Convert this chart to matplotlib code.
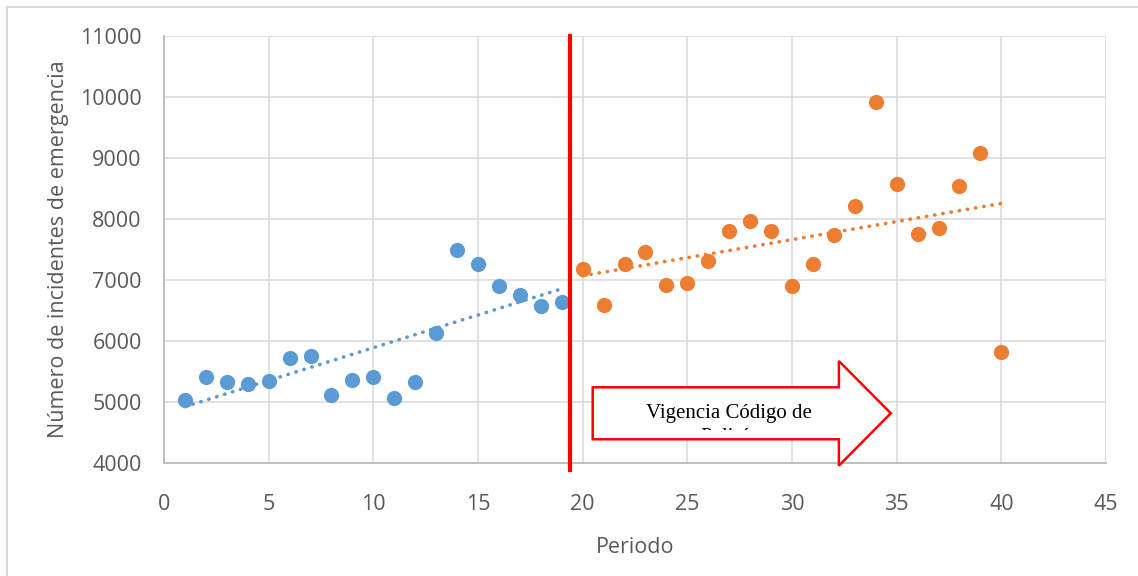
import numpy as np
import matplotlib.pyplot as plt
from matplotlib.patches import Polygon, Rectangle
from matplotlib.transforms import Bbox, TransformedBbox

# periodos y numero de incidentes
periodo_antes = [1, 2, 3, 4, 5, 6, 7, 8, 9, 10, 11, 12, 13, 14, 15, 16, 17, 18, 19]
incidentes_antes = [5040, 5415, 5335, 5290, 5340, 5720, 5750, 5120, 5355, 5410, 5060, 5335,
                    6125, 7485, 7255, 6900, 6755, 6575, 6640]
periodo_despues = [20, 21, 22, 23, 24, 25, 26, 27, 28, 29, 30, 31, 32, 33, 34, 35, 36, 37, 38, 39, 40]
incidentes_despues = [7185, 6590, 7255, 7465, 6915, 6945, 7310, 7810, 7960, 7805, 6900, 7265,
                      7735, 8220, 9915, 8570, 7750, 7855, 8535, 9090, 5825]
corte = 19.4
texto_flecha = "Vigencia Código de\nPolicía"

azul = "#5B9BD5"
naranja = "#ED7D31"
gris = "#595959"

plt.rcParams['font.family'] = ['Open Sans', 'DejaVu Sans']

fig = plt.figure(figsize=(11.38, 5.76), dpi=100)
ax = fig.add_axes([164 / 1138, 1 - 463 / 576, (1106 - 164) / 1138, (463 - 36) / 576])

# borde del area del grafico
fig.patches.append(Rectangle((7 / 1138, -0.1), 1.2, 1 - 7 / 576 + 0.1, transform=fig.transFigure,
                             fill=False, edgecolor="#d9d9d9", linewidth=1.5))

ax.scatter(periodo_antes, incidentes_antes, s=120, color=azul, zorder=3, linewidths=0)
ax.scatter(periodo_despues, incidentes_despues, s=120, color=naranja, zorder=3, linewidths=0)

# lineas de tendencia lineales
for xs, ys, c in [(periodo_antes, incidentes_antes, azul), (periodo_despues, incidentes_despues, naranja)]:
    m, b = np.polyfit(xs, ys, 1)
    xx = np.array([xs[0], xs[-1]])
    ax.plot(xx, m * xx + b, linestyle=(0, (0.1, 2.2)), dash_capstyle='round',
            linewidth=2.6, color=c, zorder=2)

ax.axvline(corte, ymin=-0.016, ymax=1, color="#FF0000", linewidth=3, clip_on=False, zorder=4)

# flecha con texto
flecha = Polygon([(20.48, 5241), (32.24, 5241), (32.24, 5672), (34.72, 4815),
                  (32.24, 3956), (32.24, 4389), (20.48, 4389)],
                 closed=True, facecolor="white", edgecolor="#FF0000", linewidth=1.8,
                 clip_on=False, zorder=5)
ax.add_patch(flecha)
# el texto queda cortado por el marco de texto, como en el original
t = ax.text(27.0, 4960, texto_flecha, ha='center', va='top', multialignment='center',
            fontsize=15, family=['Liberation Serif', 'DejaVu Serif'], color="black",
            linespacing=1.3, zorder=6)
t.set_clip_on(True)
t.set_clip_box(TransformedBbox(Bbox([[20.6, 4533], [32.1, 5230]]), ax.transData))

ax.set_xlim(0, 45)
ax.set_ylim(4000, 11000)
ax.set_xticks(np.arange(0, 46, 5))
ax.set_yticks(np.arange(4000, 11001, 1000))
ax.grid(True, color="#d9d9d9", linewidth=1.1)
ax.set_axisbelow(True)
for s in ['top', 'right']:
    ax.spines[s].set_visible(False)
for s in ['left', 'bottom']:
    ax.spines[s].set_color("#bfbfbf")
    ax.spines[s].set_linewidth(1.4)
ax.tick_params(axis='both', length=0, labelsize=15.5, labelcolor=gris)
ax.tick_params(axis='x', pad=22)
ax.tick_params(axis='y', pad=16)

ax.set_xlabel("Periodo", fontsize=15.5, color=gris, labelpad=16)
ax.set_ylabel("Número de incidentes de emergencia", fontsize=15.5, color=gris, labelpad=8)

plt.savefig('out.png')
